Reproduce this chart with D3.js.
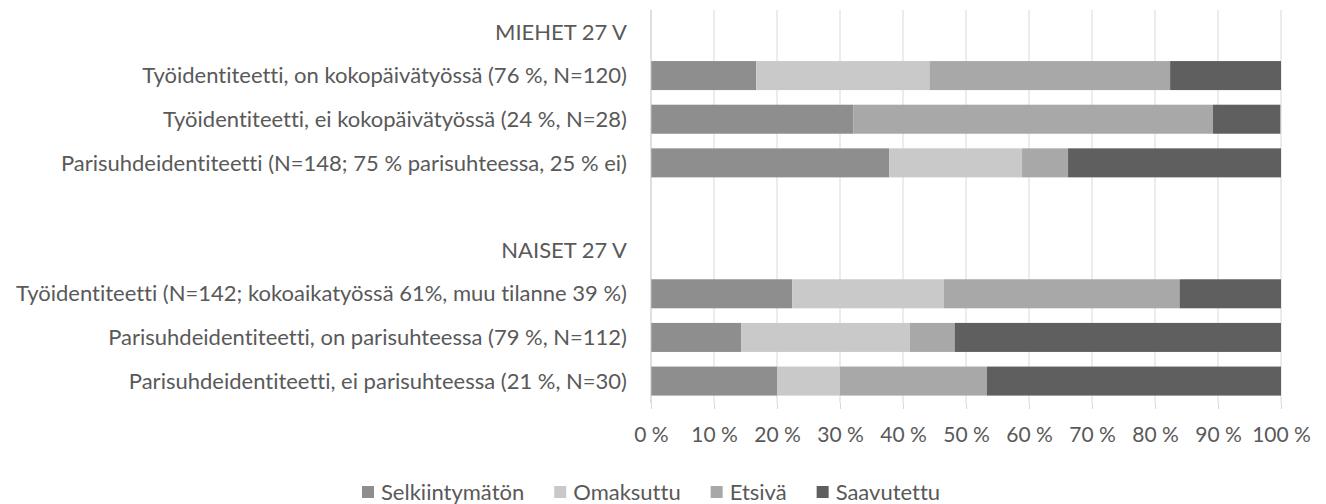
<!DOCTYPE html>
<html>
<head>
<meta charset="utf-8">
<script src="https://cdn.jsdelivr.net/npm/d3@7"></script>
<style>
  body { margin: 0; background: #fff; }
  text { font-family: Lato, "Open Sans", sans-serif; fill: #595959; font-variant-ligatures: none; }
</style>
</head>
<body>
<div id="chart"></div>
<script>
// rows top to bottom; headers and the spacer row have no bars
const categories = [
  "MIEHET 27 V",
  "Työidentiteetti, on kokopäivätyössä (76 %, N=120)",
  "Työidentiteetti, ei kokopäivätyössä (24 %, N=28)",
  "Parisuhdeidentiteetti (N=148; 75 % parisuhteessa, 25 % ei)",
  " ",
  "NAISET 27 V",
  "Työidentiteetti (N=142; kokoaikatyössä 61%, muu tilanne 39 %)",
  "Parisuhdeidentiteetti, on parisuhteessa (79 %, N=112)",
  "Parisuhdeidentiteetti, ei parisuhteessa (21 %, N=30)"
];
const seriesNames = ["Selkiintymätön", "Omaksuttu", "Etsivä", "Saavutettu"];
const selkiintymaton = [0, 16.7, 32.1, 37.8, 0, 0, 22.4, 14.3, 20.0];
const omaksuttu      = [0, 27.5, 0,    21.1, 0, 0, 24.1, 26.8, 10.0];
const etsiva         = [0, 38.2, 57.1,  7.3, 0, 0, 37.4,  7.1, 23.3];
const saavutettu     = [0, 17.6, 10.7, 33.8, 0, 0, 16.1, 51.8, 46.7];
const tickValues = [0, 10, 20, 30, 40, 50, 60, 70, 80, 90, 100];
const colors = ["#8e8e8e", "#c9c9c9", "#a8a8a8", "#5f5f5f"];

const width = 1326, height = 504;
const margin = { top: 10, right: 45, bottom: 101, left: 651 };
const innerW = width - margin.left - margin.right;
const innerH = height - margin.top - margin.bottom;

const rows = categories.map((c, i) => ({
  cat: c,
  [seriesNames[0]]: selkiintymaton[i],
  [seriesNames[1]]: omaksuttu[i],
  [seriesNames[2]]: etsiva[i],
  [seriesNames[3]]: saavutettu[i]
}));

const svg = d3.select("#chart").append("svg")
  .attr("width", width).attr("height", height);
const g = svg.append("g")
  .attr("transform", `translate(${margin.left},${margin.top})`);

const x = d3.scaleLinear().domain([0, 100]).range([0, innerW]);
const y = d3.scaleBand().domain(categories).range([0, innerH]).paddingInner(0.335).paddingOuter(0.17);

// gridlines
g.selectAll(".grid").data(tickValues.slice(1))
  .join("line")
  .attr("x1", d => x(d)).attr("x2", d => x(d))
  .attr("y1", 0).attr("y2", innerH)
  .attr("stroke", "#d9d9d9").attr("stroke-width", 1);

// stacked bars
const stack = d3.stack().keys(seriesNames);
const layers = stack(rows);
g.selectAll(".layer").data(layers)
  .join("g")
  .attr("fill", (d, i) => colors[i])
  .selectAll("rect")
  .data(d => d.filter(p => p[1] - p[0] > 0))
  .join("rect")
  .attr("x", d => x(d[0]))
  .attr("width", d => x(d[1]) - x(d[0]))
  .attr("y", d => y(d.data.cat))
  .attr("height", y.bandwidth());

// vertical category axis line
g.append("line")
  .attr("x1", 0).attr("x2", 0).attr("y1", 0).attr("y2", innerH)
  .attr("stroke", "#bfbfbf");

// category labels
g.selectAll(".cat").data(categories)
  .join("text")
  .attr("x", -24)
  .attr("y", d => y(d) + y.bandwidth() / 2)
  .attr("dy", "0.35em")
  .attr("text-anchor", "end")
  .style("font-size", "22px")
  .text(d => d.trim());

// x axis
const xAxis = d3.axisBottom(x).tickValues(tickValues)
  .tickFormat(d => d + " %").tickSize(6).tickPadding(18);
const ax = g.append("g").attr("transform", `translate(0,${innerH})`).call(xAxis);
ax.select(".domain").remove();
ax.selectAll(".tick line").attr("stroke", "#d9d9d9");
ax.selectAll(".tick text").style("font-size", "21px").style("font-family", "Lato, sans-serif").attr("fill", "#595959");

// legend, items laid out one after another with an even gap
const legend = svg.append("g").attr("transform", `translate(362,492)`);
const items = legend.selectAll("g").data(seriesNames).join("g");
items.append("rect")
  .attr("x", 0).attr("y", -6).attr("width", 12).attr("height", 12)
  .attr("fill", (d, i) => colors[i]);
items.append("text")
  .attr("x", 19).attr("y", 0).attr("dy", "0.35em")
  .style("font-size", "22px")
  .text(d => d);
let offset = 0;
items.each(function () {
  d3.select(this).attr("transform", `translate(${offset},0)`);
  offset += 19 + this.querySelector("text").getComputedTextLength() + 30;
});
</script>
</body>
</html>
